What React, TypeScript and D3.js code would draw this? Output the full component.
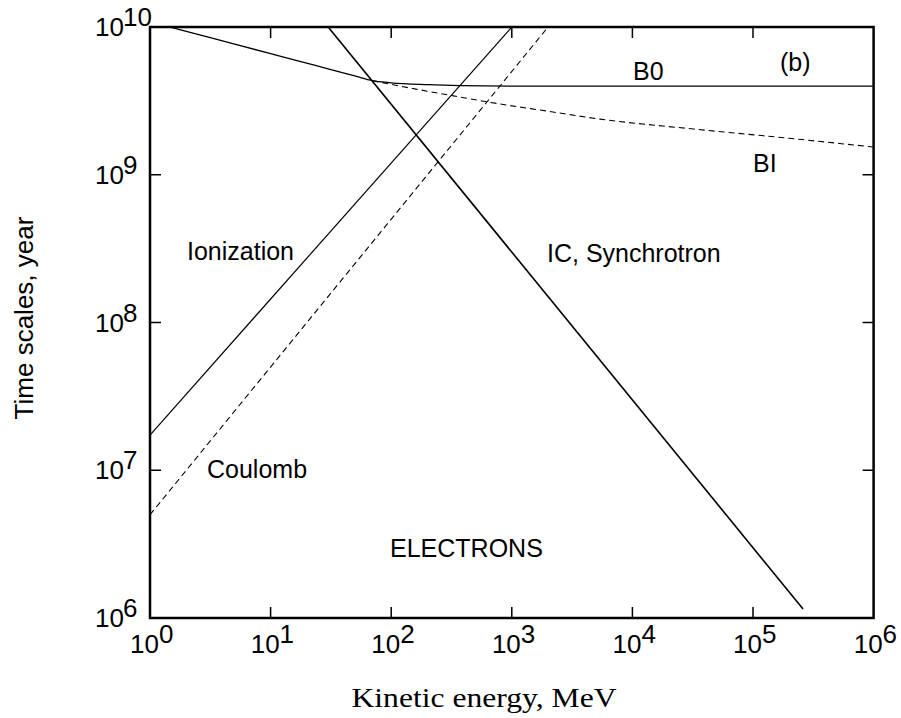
import React from "react";
import * as d3 from "d3";

// ---- data ----
const xTickExps = [0, 1, 2, 3, 4, 5, 6];
const yTickExps = [6, 7, 8, 9, 10];

// Ionization (solid straight line)
const ionE = [1, 1000];
const ionT = [1.73e7, 1.0e10];

// Coulomb (dashed straight line)
const coulE = [1, 2000];
const coulT = [5.0e6, 1.0e10];

// IC, Synchrotron (solid straight line)
const icE = [30, 2.6e5];
const icT = [1.0e10, 1.15e6];

// B0 (solid curve)
const b0E = [1, 3.16, 10, 17.8, 31.6, 50, 70, 100, 200, 370, 1000, 1e4, 1e6];
const b0T = [1.084e10, 8.46e9, 6.61e9, 5.83e9, 5.15e9, 4.66e9, 4.33e9, 4.19e9, 4.07e9, 4.01e9, 3.98e9, 3.98e9, 3.98e9];

// BI (dashed curve, departs from B0)
const biE = [70, 160, 320, 660, 2000, 5400, 3.2e4, 1.8e5, 1e6];
const biT = [4.33e9, 3.8e9, 3.43e9, 3.09e9, 2.69e9, 2.38e9, 2.04e9, 1.78e9, 1.54e9];

const W = 901;
const H = 718;
const L = 150;
const R = 873.6;
const T = 27;
const B = 618;

export default function App() {
  const x = d3.scaleLog().domain([1, 1e6]).range([L, R]);
  const y = d3.scaleLog().domain([1e6, 1e10]).range([B, T]);
  const line = d3
    .line<[number, number]>()
    .x((d) => x(d[0]))
    .y((d) => y(d[1]));
  const curve = d3
    .line<[number, number]>()
    .x((d) => x(d[0]))
    .y((d) => y(d[1]))
    .curve(d3.curveMonotoneX);
  const zip = (a: number[], b: number[]) => a.map((v, i) => [v, b[i]] as [number, number]);

  const sans = "'Liberation Sans', Arial, Helvetica, sans-serif";
  const tickLen = 11;

  return (
    <svg
      width={W}
      height={H}
      style={{ position: "absolute", left: 0, top: 0, background: "#fff" }}
      fontFamily={sans}
    >
      <defs>
        <clipPath id="plot">
          <rect x={L} y={T} width={R - L} height={B - T} />
        </clipPath>
      </defs>

      {/* curves */}
      <g clipPath="url(#plot)" fill="none" stroke="#000">
        <path d={line(zip(ionE, ionT)) || ""} strokeWidth={1.2} />
        <path d={line(zip(coulE, coulT)) || ""} strokeWidth={1.1} strokeDasharray="6,4" />
        <path d={line(zip(icE, icT)) || ""} strokeWidth={1.6} />
        <path d={curve(zip(b0E, b0T)) || ""} strokeWidth={1.3} />
        <path d={curve(zip(biE, biT)) || ""} strokeWidth={1.1} strokeDasharray="6,4" />
      </g>

      {/* ticks */}
      <g stroke="#000" strokeWidth={1.5}>
        {xTickExps.slice(1, -1).map((e) => (
          <g key={"xt" + e}>
            <line x1={x(10 ** e)} x2={x(10 ** e)} y1={B} y2={B - tickLen} />
            <line x1={x(10 ** e)} x2={x(10 ** e)} y1={T} y2={T + tickLen} />
          </g>
        ))}
        {yTickExps.slice(1, -1).map((e) => (
          <g key={"yt" + e}>
            <line x1={L} x2={L + tickLen} y1={y(10 ** e)} y2={y(10 ** e)} />
            <line x1={R} x2={R - tickLen} y1={y(10 ** e)} y2={y(10 ** e)} />
          </g>
        ))}
      </g>

      {/* frame */}
      <rect x={L} y={T} width={R - L} height={B - T} fill="none" stroke="#000" strokeWidth={2.5} />

      {/* x tick labels */}
      <g fontSize={26}>
        {xTickExps.map((e) => (
          <g key={"xl" + e}>
            <text x={x(10 ** e) + 9} y={B + 35} textAnchor="end">10</text>
            <text x={x(10 ** e) + 9} y={B + 25} textAnchor="start">{e}</text>
          </g>
        ))}
      </g>

      {/* y tick labels */}
      <g fontSize={26}>
        {yTickExps.map((e) => (
          <g key={"yl" + e}>
            <text x={124} y={y(10 ** e) + 9} textAnchor="end">10</text>
            <text x={123} y={y(10 ** e) - 1} textAnchor="start">{e}</text>
          </g>
        ))}
      </g>

      {/* annotations */}
      <g fontSize={25}>
        <text x={780} y={71}>(b)</text>
        <text x={633} y={80}>B0</text>
        <text x={753} y={172}>BI</text>
        <text x={187} y={260}>Ionization</text>
        <text x={547} y={262}>IC, Synchrotron</text>
        <text x={207} y={478}>Coulomb</text>
        <text x={390} y={557}>ELECTRONS</text>
      </g>

      {/* axis titles */}
      <text
        transform={`translate(33, 318) rotate(-90)`}
        textAnchor="middle"
        fontSize={26}
      >
        Time scales, year
      </text>
      <text
        x={484}
        y={707}
        textAnchor="middle"
        fontSize={27}
        fontFamily="'Liberation Serif', 'Times New Roman', serif"
        textLength={265}
        lengthAdjust="spacingAndGlyphs"
      >
        Kinetic energy, MeV
      </text>
    </svg>
  );
}
